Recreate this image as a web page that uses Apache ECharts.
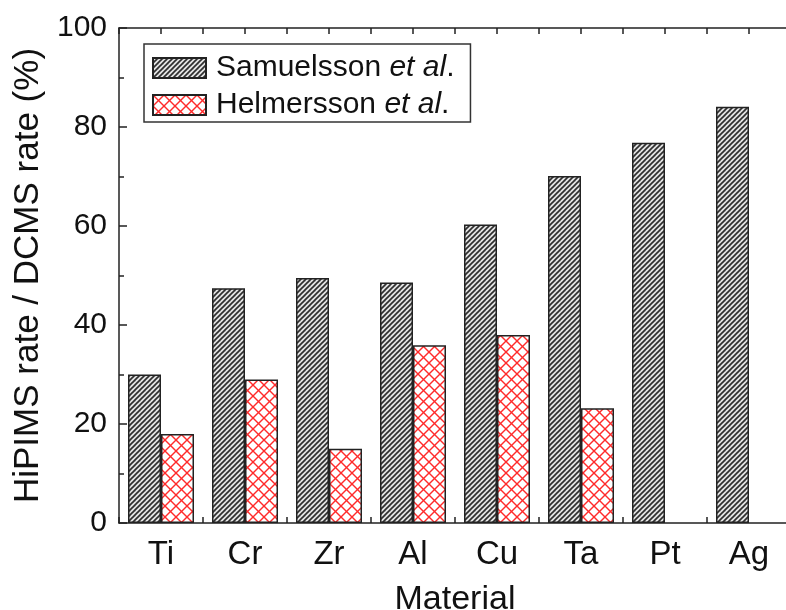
<!DOCTYPE html>
<html>
<head>
<meta charset="utf-8">
<script src="https://cdn.jsdelivr.net/npm/echarts@6/dist/echarts.min.js"></script>
<style>html,body{margin:0;padding:0;background:#fff}#c{width:786px;height:610px}</style>
</head>
<body>
<div id="c"></div>
<script>
const categories = ['Ti', 'Cr', 'Zr', 'Al', 'Cu', 'Ta', 'Pt', 'Ag'];
const samuelsson = [30, 47.4, 49.5, 48.6, 60.3, 70.1, 76.8, 84.1];
const helmersson = [18, 29, 15, 35.9, 38, 23.2, '-', '-'];
const yTicks = [0, 20, 40, 60, 80, 100];

function hatchPattern() {
  const s = 5;
  const c = document.createElement('canvas');
  c.width = s; c.height = s;
  const g = c.getContext('2d');
  g.fillStyle = '#e6e6e6';
  g.fillRect(0, 0, s, s);
  g.strokeStyle = '#2e2e2e';
  g.lineWidth = 1.7;
  for (let k = -1; k <= 1; k++) {
    g.beginPath();
    g.moveTo(k * s - 1, s + 1);
    g.lineTo(k * s + s + 1, -1);
    g.stroke();
  }
  return { image: c, repeat: 'repeat' };
}
function crossPattern() {
  const s = 11;
  const c = document.createElement('canvas');
  c.width = s; c.height = s;
  const g = c.getContext('2d');
  g.fillStyle = '#ffffff';
  g.fillRect(0, 0, s, s);
  g.strokeStyle = '#ff2a2a';
  g.lineWidth = 1.4;
  for (let k = -1; k <= 1; k++) {
    g.beginPath();
    g.moveTo(k * s - 1, s + 1);
    g.lineTo(k * s + s + 1, -1);
    g.stroke();
    g.beginPath();
    g.moveTo(k * s - 1, -1);
    g.lineTo(k * s + s + 1, s + 1);
    g.stroke();
  }
  return { image: c, repeat: 'repeat' };
}

const font = 'Liberation Sans, Arial, Helvetica, sans-serif';
const chart = echarts.init(document.getElementById('c'));
const axisLine = { show: true, lineStyle: { color: '#222', width: 1.5 } };
chart.setOption({
  animation: false,
  backgroundColor: '#fff',
  grid: { left: 119, top: 28, bottom: 87, right: -5, containLabel: false, outerBoundsMode: 'none' },
  legend: {
    orient: 'vertical',
    left: 144, top: 44,
    padding: [9, 16, 2, 8],
    itemGap: 7,
    itemWidth: 53, itemHeight: 20,
    icon: 'rect',
    borderColor: '#333', borderWidth: 1.5,
    data: [
      { name: 'Samuelsson et al.', icon: 'rect' },
      { name: 'Helmersson et al.', icon: 'rect' }
    ],
    formatter: function (n) {
      const parts = n.split(' et al.');
      return '{n|' + parts[0] + ' }{i|et al}{n|.}';
    },
    textStyle: {
      fontFamily: font, fontSize: 30, color: '#111', lineHeight: 30, padding: [0, 0, 0, 5],
      rich: {
        n: { fontFamily: font, fontSize: 30, color: '#111', lineHeight: 30 },
        i: { fontFamily: font, fontSize: 30, fontStyle: 'italic', color: '#111', lineHeight: 30 }
      }
    }
  },
  xAxis: [
    {
      type: 'category', data: categories, position: 'bottom',
      axisLine: axisLine,
      axisTick: { show: true, inside: true, length: 6, lineStyle: { color: '#222', width: 1.5 } },
      axisLabel: { fontFamily: font, fontSize: 33, color: '#111', margin: 15 },
      name: 'Material', nameLocation: 'middle', nameGap: 60,
      nameTextStyle: { fontFamily: font, fontSize: 34, color: '#111' }
    },
    {
      type: 'value', position: 'top', min: 0, max: 8, interval: 0.5,
      axisLine: axisLine,
      axisTick: { show: true, inside: true, length: 6, lineStyle: { color: '#222', width: 1.5 } },
      axisLabel: { show: false }, splitLine: { show: false }
    }
  ],
  yAxis: {
    type: 'value', min: yTicks[0], max: yTicks[yTicks.length - 1], interval: 20,
    axisLine: axisLine,
    axisTick: { show: true, inside: true, length: 8, lineStyle: { color: '#222', width: 1.5 } },
    minorTick: { show: true, splitNumber: 2, length: 5, lineStyle: { color: '#222', width: 1.5 } },
    splitLine: { show: false },
    axisLabel: { fontFamily: font, fontSize: 30, color: '#111', margin: 12 },
    name: 'HiPIMS rate / DCMS rate (%)', nameLocation: 'middle', nameGap: 73,
    nameTextStyle: { fontFamily: font, fontSize: 35, color: '#111' }
  },
  series: [
    {
      name: 'Samuelsson et al.', type: 'bar', data: samuelsson, xAxisIndex: 0,
      barWidth: 33, barGap: '0%',
      itemStyle: { color: hatchPattern(), borderColor: '#222', borderWidth: 1.5 }
    },
    {
      name: 'Helmersson et al.', type: 'bar', data: helmersson, xAxisIndex: 0,
      barWidth: 33, barGap: '0%',
      itemStyle: { color: crossPattern(), borderColor: '#222', borderWidth: 1.5 }
    }
  ]
});
</script>
</body>
</html>
